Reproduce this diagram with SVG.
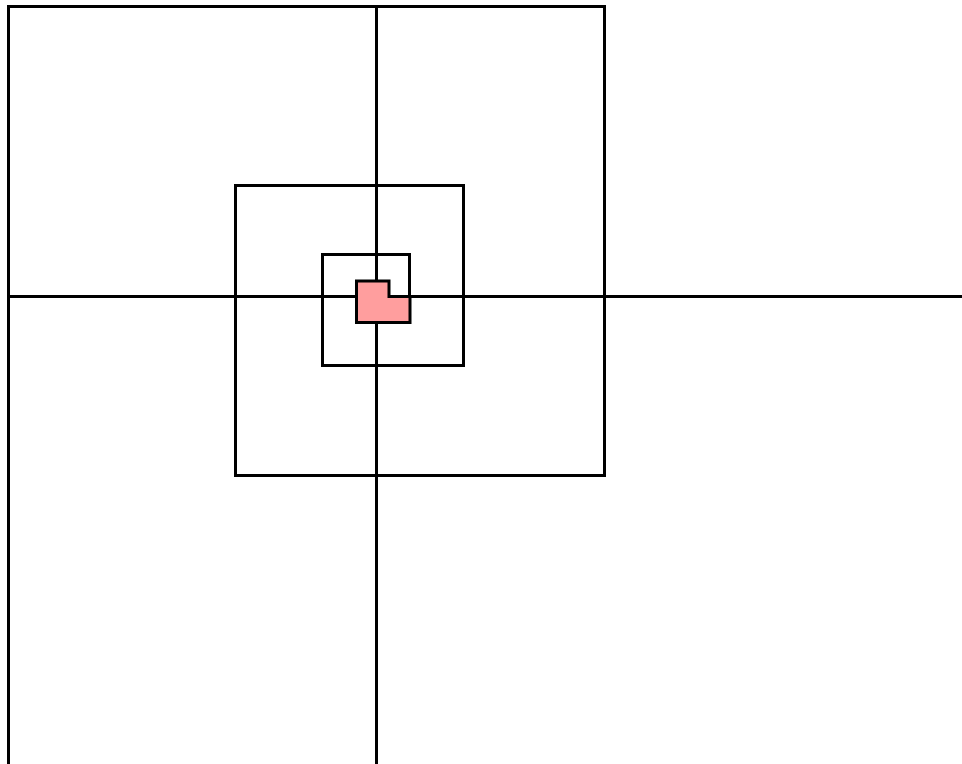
<svg xmlns="http://www.w3.org/2000/svg" width="962" height="764" viewBox="0 0 962 764">
<style>
.ln{fill:none;stroke:#000;stroke-width:3;stroke-linecap:square;stroke-linejoin:miter}
.core{fill:#ff9e9e;stroke:#000;stroke-width:3}
</style>
<rect width="962" height="764" fill="#fff"/>
<g id="frame">
<path class="ln" d="M8.5,764 V6.5 H604.5 V475.5 H235.5 V185.5 H463.5 V365.5 H322.5 V254.5 H409.5 V296.5"/>
</g>
<g id="axes">
<path class="ln" d="M8.5,296.5 H962"/>
<path class="ln" d="M376.5,6.5 V764"/>
</g>
<g id="core">
<path class="core" d="M356.5,281 H389 V296.5 H410 V322.5 H356.5 Z"/>
</g>
</svg>
